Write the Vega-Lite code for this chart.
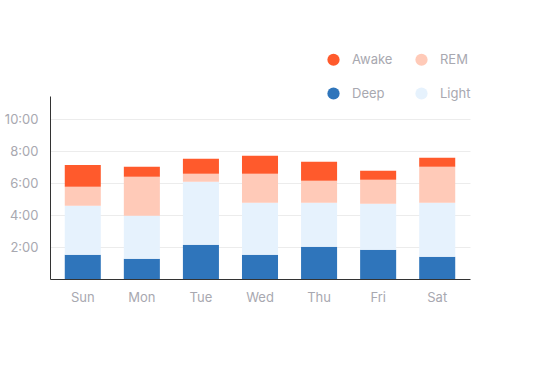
{
  "$schema": "https://vega.github.io/schema/vega-lite/v6.json",
  "width": 420,
  "height": 183,
  "autosize": {"type": "none"},
  "padding": {"left": 50, "top": 96, "right": 71, "bottom": 102},
  "background": "white",
  "config": {"view": {"stroke": null}, "font": "Inter"},
  "data": {"values": [
    {"day": "Sun", "stage": "Deep", "hours": 1.52},
    {"day": "Sun", "stage": "Light", "hours": 3.06},
    {"day": "Sun", "stage": "REM", "hours": 1.19},
    {"day": "Sun", "stage": "Awake", "hours": 1.37},
    {"day": "Mon", "stage": "Deep", "hours": 1.27},
    {"day": "Mon", "stage": "Light", "hours": 2.69},
    {"day": "Mon", "stage": "REM", "hours": 2.43},
    {"day": "Mon", "stage": "Awake", "hours": 0.63},
    {"day": "Tue", "stage": "Deep", "hours": 2.14},
    {"day": "Tue", "stage": "Light", "hours": 3.94},
    {"day": "Tue", "stage": "REM", "hours": 0.5},
    {"day": "Tue", "stage": "Awake", "hours": 0.94},
    {"day": "Wed", "stage": "Deep", "hours": 1.52},
    {"day": "Wed", "stage": "Light", "hours": 3.25},
    {"day": "Wed", "stage": "REM", "hours": 1.81},
    {"day": "Wed", "stage": "Awake", "hours": 1.13},
    {"day": "Thu", "stage": "Deep", "hours": 2.02},
    {"day": "Thu", "stage": "Light", "hours": 2.75},
    {"day": "Thu", "stage": "REM", "hours": 1.37},
    {"day": "Thu", "stage": "Awake", "hours": 1.19},
    {"day": "Fri", "stage": "Deep", "hours": 1.83},
    {"day": "Fri", "stage": "Light", "hours": 2.88},
    {"day": "Fri", "stage": "REM", "hours": 1.5},
    {"day": "Fri", "stage": "Awake", "hours": 0.56},
    {"day": "Sat", "stage": "Deep", "hours": 1.39},
    {"day": "Sat", "stage": "Light", "hours": 3.38},
    {"day": "Sat", "stage": "REM", "hours": 2.25},
    {"day": "Sat", "stage": "Awake", "hours": 0.56}
  ]},
  "transform": [
    {"calculate": "indexof(['Deep','Light','REM','Awake'], datum.stage)", "as": "stackOrder"}
  ],
  "mark": {"type": "bar"},
  "encoding": {
    "x": {
      "field": "day", "type": "nominal",
      "sort": ["Sun", "Mon", "Tue", "Wed", "Thu", "Fri", "Sat"],
      "scale": {"paddingInner": 0.39, "paddingOuter": 0.25},
      "axis": {
        "title": null, "labelAngle": 0, "ticks": false,
        "domainColor": "#333333", "domainWidth": 1,
        "labelColor": "#a8a8b0", "labelFontSize": 13, "labelPadding": 12, "grid": false
      }
    },
    "y": {
      "field": "hours", "type": "quantitative", "stack": "zero",
      "scale": {"domain": [0, 11.45], "nice": false},
      "axis": {
        "title": null, "values": [2, 4, 6, 8, 10],
        "labelExpr": "floor(datum.value) + ':00'",
        "ticks": false, "domainColor": "#333333", "domainWidth": 1,
        "gridColor": "#ececec", "labelColor": "#a8a8b0", "labelFontSize": 13, "labelPadding": 12
      }
    },
    "color": {
      "field": "stage", "type": "nominal",
      "scale": {
        "domain": ["Awake", "Deep", "REM", "Light"],
        "range": ["#FF5A2C", "#2F75BB", "#FFCAB8", "#E6F2FD"]
      },
      "legend": {
        "title": null, "orient": "none", "legendX": 277, "legendY": -43,
        "columns": 2, "symbolType": "circle", "symbolSize": 150,
        "symbolStrokeWidth": 0, "labelOffset": 12, "labelFontSize": 13,
        "labelColor": "#a8a8b0", "columnPadding": 22, "rowPadding": 20, "gridAlign": "all"
      }
    },
    "order": {"field": "stackOrder", "type": "quantitative"}
  }
}
